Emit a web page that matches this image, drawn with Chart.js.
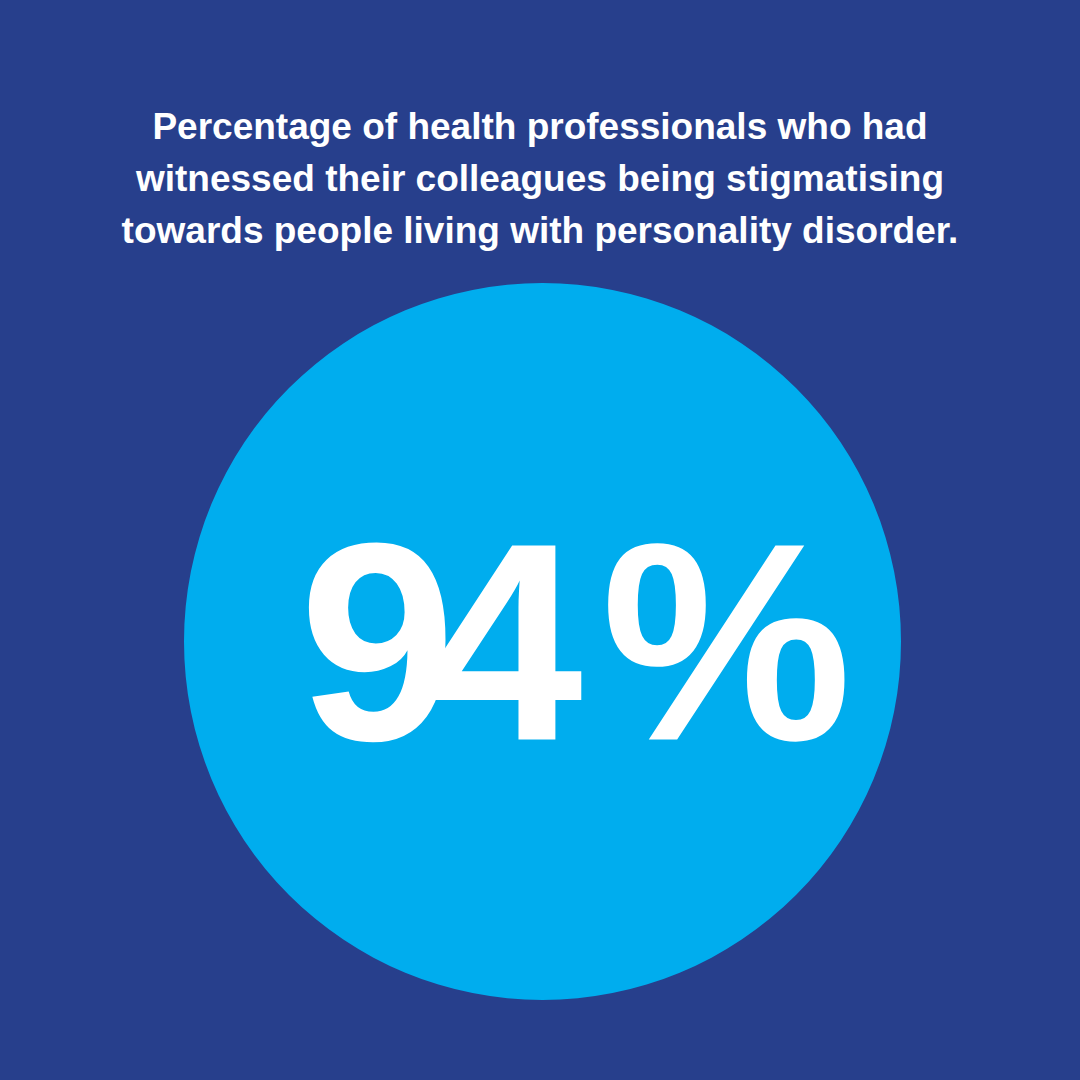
<!DOCTYPE html>
<html>
<head>
<meta charset="utf-8">
<script src="https://cdn.jsdelivr.net/npm/chart.js@4"></script>
<style>
  html, body { margin: 0; padding: 0; background: #273f8c; }
  #wrap { position: relative; width: 1080px; height: 1080px; overflow: hidden; }
  #title {
    position: absolute; left: 0; top: 101px; width: 1080px;
    text-align: center; color: #fff;
    font: bold 37px "Liberation Sans", Arial, sans-serif; line-height: 52px;
  }
  #box { position: absolute; left: 184px; top: 283px; width: 717px; height: 717px; }
</style>
</head>
<body>
<div id="wrap">
  <div id="title">Percentage of health professionals who had<br>witnessed their colleagues being stigmatising<br>towards people living with personality disorder.</div>
  <div id="box"><canvas id="chart-0"></canvas></div>
</div>
<script>
// the single figure shown in the circle
const labels = ["Witnessed stigmatising behaviour"];
const values = [94];

// draw the big number in the middle of the disc
const centreText = {
  id: "centreText",
  afterDatasetsDraw(chart) {
    const arc = chart.getDatasetMeta(0).data[0];
    const ctx = chart.ctx;
    ctx.save();
    ctx.fillStyle = "#ffffff";
    ctx.font = "bold 282px 'Liberation Sans', Arial, sans-serif";
    ctx.letterSpacing = "-30px";
    ctx.textAlign = "center";
    ctx.textBaseline = "alphabetic";
    ctx.fillText(chart.data.datasets[0].data[0] + " %", arc.x + 18, arc.y + 98);
    ctx.restore();
  }
};

new Chart(document.getElementById("chart-0"), {
  type: "pie",
  data: {
    labels: labels,
    datasets: [{
      data: values,
      backgroundColor: "#00adee",
      borderWidth: 0
    }]
  },
  plugins: [centreText],
  options: {
    responsive: true,
    maintainAspectRatio: false,
    animation: false,
    layout: { padding: 0 },
    plugins: { legend: { display: false }, tooltip: { enabled: false } }
  }
});
</script>
</body>
</html>
